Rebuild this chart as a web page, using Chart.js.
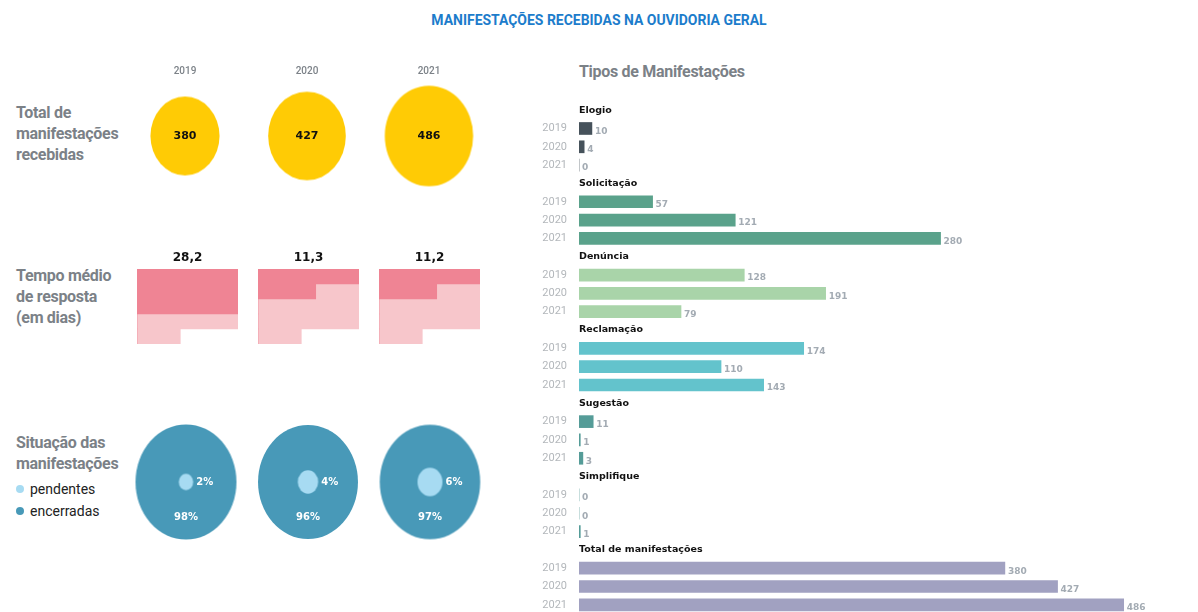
<!DOCTYPE html>
<html lang="pt-BR">
<head>
<meta charset="utf-8">
<title>Manifestações recebidas na Ouvidoria Geral</title>
<script src="https://cdn.jsdelivr.net/npm/chart.js@4.4.1/dist/chart.umd.min.js"></script>
<style>
  body { margin: 0; width: 1198px; height: 612px; overflow: hidden; background: #fff; position: relative;
         font-family: Roboto, "Liberation Sans", sans-serif; }
  .abs { position: absolute; }
  #titulo { top: 11px; left: 0; width: 1198px; text-align: center; color: #1c7ccb; font-weight: bold; font-size: 15px;
            transform: scaleX(0.93); }
  .rot { left: 16px; color: #7b8187; font-size: 16px; line-height: 21px; font-weight: bold; letter-spacing: -0.3px; }
  #tiposTitulo { left: 579px; top: 62px; color: #7b8187; font-size: 16px; font-weight: bold; letter-spacing: -0.3px; }
  #legenda div { font-size: 14px; color: #222; height: 22px; line-height: 22px; }
  #legenda span { display: inline-block; width: 8px; height: 8px; border-radius: 50%; margin: 0 6px 1px 2px; }
</style>
</head>
<body>
<div id="titulo" class="abs">MANIFESTAÇÕES RECEBIDAS NA OUVIDORIA GERAL</div>
<div class="abs rot" style="top:102px">Total de<br>manifestações<br>recebidas</div>
<div class="abs rot" style="top:265px">Tempo médio<br>de resposta<br>(em dias)</div>
<div class="abs rot" style="top:432px">Situação das<br>manifestações</div>
<div id="legenda" class="abs" style="top:478px; left:14px"></div>
<div id="tiposTitulo" class="abs">Tipos de Manifestações</div>

<div class="abs" style="left:124px; top:61px; width:366px; height:130px"><canvas id="cTotal"></canvas></div>
<div id="calendarios"></div>
<div class="abs" style="left:125px; top:407px; width:366px; height:150px"><canvas id="cSituacao"></canvas></div>
<div class="abs" style="left:530px; top:101px; width:668px; height:513px"><canvas id="cTipos"></canvas></div>

<script>
// dados
const anos = ['2019', '2020', '2021'];
const totalManifestacoes = [380, 427, 486];
const tempoMedio = [28.2, 11.3, 11.2];
const diasDestacados = [21, 11, 11];   // dias pintados no calendário
const diasNoMes = 31;
const pendentes = [2, 4, 6];
const encerradas = [98, 96, 97];

const tipos = ['Elogio', 'Solicitação', 'Denúncia', 'Reclamação', 'Sugestão', 'Simplifique'];
const elogio = [10, 4, 0];
const solicitacao = [57, 121, 280];
const denuncia = [128, 191, 79];
const reclamacao = [174, 110, 143];
const sugestao = [11, 1, 3];
const simplifique = [0, 0, 1];
const tituloTotal = 'Total de manifestações';

// estilos
const SANS = 'Roboto, "Liberation Sans", sans-serif';
const VERD = '"DejaVu Sans", Verdana, sans-serif';
const AMARELO = '#ffcb05';
const ROSA_ESC = '#ef8494';
const ROSA_CLA = '#f7c6cb';
const AZUL_ESC = '#4899b8';
const AZUL_CLA = '#a7dbf2';
const ESTICA = 1.14;
const coresTipos = ['#46525b', '#5aa28b', '#a9d4a9', '#63c3cc', '#559c98', '#559c98'];
const corTotal = '#a1a1c1';

Chart.defaults.animation = false;
Chart.defaults.maintainAspectRatio = false;
Chart.defaults.events = [];
Chart.defaults.plugins.legend.display = false;
Chart.defaults.plugins.tooltip.enabled = false;
Chart.defaults.font.family = SANS;

// elipse como pointStyle (as bolhas do original são ligeiramente ovais)
const cache = {};
function elipse(rx, cor) {
  const k = rx.toFixed(2) + cor;
  if (cache[k]) return cache[k];
  const ry = rx * ESTICA;
  const c = document.createElement('canvas');
  c.width = Math.ceil(rx * 2) + 2;
  c.height = Math.ceil(ry * 2) + 2;
  const g = c.getContext('2d');
  g.fillStyle = cor;
  g.beginPath();
  g.ellipse(c.width / 2, c.height / 2, rx, ry, 0, 0, Math.PI * 2);
  g.fill();
  return (cache[k] = c);
}

function texto(ctx, s, x, y, font, cor, align) {
  ctx.save();
  ctx.font = font;
  ctx.fillStyle = cor;
  ctx.textAlign = align || 'center';
  ctx.textBaseline = 'middle';
  ctx.fillText(s, x, y);
  ctx.restore();
}

// total de manifestações (bolhas amarelas)
new Chart(document.getElementById('cTotal'), {
  type: 'bubble',
  data: {
    labels: anos,
    datasets: [{
      label: 'Total de manifestações recebidas',
      data: anos.map((a, i) => ({ x: a, y: 0, r: totalManifestacoes[i] / 11 })),
      backgroundColor: AMARELO,
      pointStyle: c => c.raw ? elipse(c.raw.r, AMARELO) : 'circle',
      clip: false
    }]
  },
  options: {
    layout: { padding: 0, autoPadding: false },
    scales: {
      x: { type: 'category', labels: anos, position: 'top', offset: true,
           grid: { display: false, drawTicks: false }, border: { display: false },
           ticks: { color: '#7c8288', font: { size: 10, weight: '500' }, padding: 4 } },
      y: { min: -1, max: 1, display: false }
    }
  },
  plugins: [{
    id: 'valores',
    afterDatasetsDraw(chart) {
      chart.getDatasetMeta(0).data.forEach((el, i) =>
        texto(chart.ctx, String(totalManifestacoes[i]), el.x, el.y, 'bold 11px ' + VERD, '#111'));
    }
  }]
});

// tempo médio de resposta (calendários de 31 dias, 7 colunas)
const semanas = [1, 2, 3, 4, 5];
anos.forEach((ano, i) => {
  const box = document.createElement('div');
  box.className = 'abs';
  box.style.cssText = `left:${137 + i * 121}px; top:247px; width:101px; height:98px`;
  const cv = document.createElement('canvas');
  box.appendChild(cv);
  document.getElementById('calendarios').appendChild(box);

  const diasSemana = semanas.map((s, w) => Math.min(7, diasNoMes - 7 * w));
  const esc = semanas.map((s, w) => Math.max(0, Math.min(diasSemana[w], diasDestacados[i] - 7 * w)));
  const cla = semanas.map((s, w) => diasSemana[w] - esc[w]);

  new Chart(cv, {
    type: 'bar',
    data: {
      labels: semanas,
      datasets: [
        { label: 'tempo', data: esc, backgroundColor: ROSA_ESC },
        { label: 'resto do mês', data: cla, backgroundColor: ROSA_CLA }
      ]
    },
    options: {
      indexAxis: 'y',
      layout: { padding: { top: 22, bottom: 1 } },
      datasets: { bar: { barPercentage: 1, categoryPercentage: 1, borderWidth: 0 } },
      scales: {
        x: { stacked: true, min: 0, max: 7, display: false },
        y: { stacked: true, display: false }
      }
    },
    plugins: [{
      id: 'rotulo',
      afterDatasetsDraw(chart) {
        const a = chart.chartArea;
        texto(chart.ctx, tempoMedio[i].toLocaleString('pt-BR'), (a.left + a.right) / 2, a.top - 11,
              'bold 12px ' + VERD, '#111');
      }
    }]
  });
});

// situação das manifestações
const chSit = new Chart(document.getElementById('cSituacao'), {
  type: 'bubble',
  data: {
    labels: anos,
    datasets: [
      { label: 'pendentes', data: anos.map((a, i) => ({ x: a, y: 0, r: 5.1 * Math.sqrt(pendentes[i]) })),
        backgroundColor: AZUL_CLA, pointStyle: c => c.raw ? elipse(c.raw.r, AZUL_CLA) : 'circle', clip: false },
      { label: 'encerradas', data: anos.map((a, i) => ({ x: a, y: 0, r: 5.1 * Math.sqrt(encerradas[i]) })),
        backgroundColor: AZUL_ESC, pointStyle: c => c.raw ? elipse(c.raw.r, AZUL_ESC) : 'circle', clip: false }
    ]
  },
  options: {
    layout: { padding: 0, autoPadding: false },
    scales: {
      x: { type: 'category', labels: anos, offset: true, display: false },
      y: { min: -1, max: 1, display: false }
    }
  },
  plugins: [{
    id: 'pct',
    afterDatasetsDraw(chart) {
      const ctx = chart.ctx;
      chart.getDatasetMeta(0).data.forEach((el, i) =>
        texto(ctx, pendentes[i] + '%', el.x + el.options.radius + 3, el.y, 'bold 10px ' + VERD, '#fff', 'left'));
      chart.getDatasetMeta(1).data.forEach((el, i) =>
        texto(ctx, encerradas[i] + '%', el.x, el.y + 35, 'bold 10px ' + VERD, '#fff'));
    }
  }]
});

// legenda montada a partir dos datasets
document.getElementById('legenda').innerHTML = chSit.data.datasets
  .map(d => `<div><span style="background:${d.backgroundColor}"></span>${d.label}</div>`).join('');

// tipos de manifestações
const grupos = [elogio, solicitacao, denuncia, reclamacao, sugestao, simplifique];
const linhas = [], titulos = {}, valTipos = [], valTotal = [], cores = [];
grupos.forEach((vals, g) => {
  titulos[linhas.length] = tipos[g];
  linhas.push(''); valTipos.push(null); valTotal.push(null); cores.push(coresTipos[g]);
  anos.forEach((a, i) => { linhas.push(a); valTipos.push(vals[i]); valTotal.push(null); cores.push(coresTipos[g]); });
});
titulos[linhas.length] = tituloTotal;
linhas.push(''); valTipos.push(null); valTotal.push(null); cores.push(corTotal);
anos.forEach((a, i) => { linhas.push(a); valTipos.push(null); valTotal.push(totalManifestacoes[i]); cores.push(corTotal); });

new Chart(document.getElementById('cTipos'), {
  type: 'bar',
  data: {
    labels: linhas,
    datasets: [
      { label: 'Tipos', data: valTipos, backgroundColor: cores, xAxisID: 'x' },
      { label: tituloTotal, data: valTotal, backgroundColor: corTotal, xAxisID: 'x2' }
    ]
  },
  options: {
    indexAxis: 'y',
    layout: { padding: { right: 25, top: 0, bottom: 0 } },
    datasets: { bar: { barThickness: 12, grouped: false, borderWidth: 0 } },
    scales: {
      x: { min: 0, max: 460, display: false },
      x2: { min: 0, max: 530, display: false },
      y: {
        offset: true,
        grid: { display: false, drawTicks: false }, border: { display: false },
        ticks: { color: '#b3b7bb', font: { size: 11 }, padding: 12, autoSkip: false },
        afterFit: s => { s.width = 49; s.paddingTop = 0; s.paddingBottom = 0; }
      }
    }
  },
  plugins: [{
    id: 'rotulos',
    afterDatasetsDraw(chart) {
      const ctx = chart.ctx, y = chart.scales.y, left = chart.chartArea.left;
      Object.keys(titulos).forEach(k =>
        texto(ctx, titulos[k], left, y.getPixelForValue(+k), 'bold 9.5px ' + VERD, '#111', 'left'));
      [0, 1].forEach(d => {
        const src = d === 0 ? valTipos : valTotal;
        chart.getDatasetMeta(d).data.forEach((el, i) => {
          if (src[i] === null) return;
          texto(ctx, String(src[i]), el.x + 3, el.y + 3, 'bold 9px ' + VERD, '#a3abb3', 'left');
        });
      });
    }
  }]
});
</script>
</body>
</html>
